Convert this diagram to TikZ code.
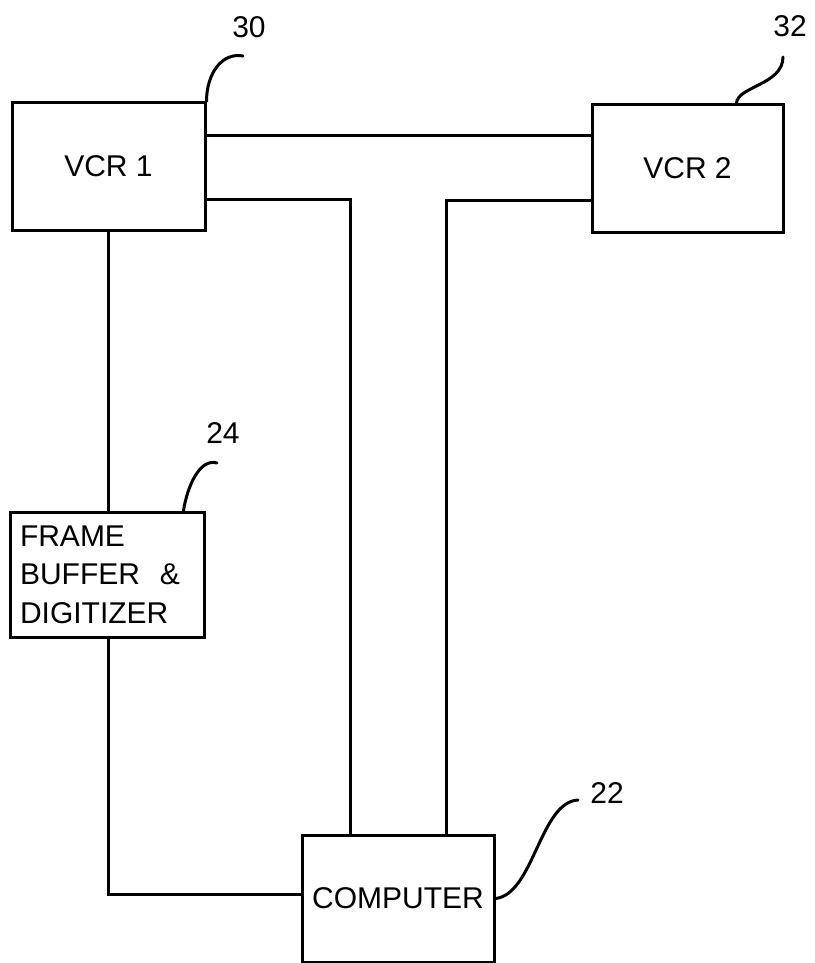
\documentclass[tikz,border=0pt]{standalone}
\usepackage{fontspec}
\setmainfont{Liberation Sans}
\usetikzlibrary{positioning,calc}

\begin{document}
\begin{tikzpicture}[
    x=1pt, y=-1pt,
    line width=3pt,
    block/.style={draw, rectangle, inner sep=0pt, font=\fontsize{30}{38.5}\selectfont},
    wire/.style={line cap=rect},
    ref/.style={font=\fontsize{30}{36}\selectfont},
    leader/.style={line cap=round}
]
\useasboundingbox (0,0) rectangle (814,963);

% Blocks
\node[block, minimum width=193pt, minimum height=127pt] (vcr1) at (108.5,166.5) {VCR 1};
\node[block, minimum width=191pt, minimum height=127pt] (vcr2) at (687.5,168.5) {VCR 2};
\node[block, minimum width=194pt, minimum height=125pt, align=left,
      text width=174pt] (frame) at (107,574.5) {FRAME\\BUFFER~~\&\\DIGITIZER};
\node[block, minimum width=192pt, minimum height=127pt] (computer) at (398,898.5) {COMPUTER};

% Wiring
\coordinate (tapA) at (0,135);
\draw[wire] (vcr1.east |- tapA) -- (vcr2.west |- tapA);
\coordinate (busL) at (350,199);
\draw[wire] (vcr1.east |- busL) -| (computer.north -| busL);
\coordinate (busR) at (446,200);
\draw[wire] (vcr2.west |- busR) -| (computer.north -| busR);
\draw[wire] (vcr1.south) -- (frame.north -| vcr1.south);
\coordinate (ret) at (108,894);
\draw[wire] (frame.south -| ret) |- (computer.west |- ret);

% Reference numerals
\node[ref] (n30) at (249,27) {30};
\coordinate (e30) at (243,56);
\draw[leader] (vcr1.north east) .. controls +(0,-28) and +(-21,-4) .. (e30);

\node[ref] (n32) at (790,26) {32};
\coordinate (e32) at (783,57);
\draw[leader] ($(vcr2.north east)+(-48,0)$) .. controls +(0,-17) and +(0,28) .. (e32);

\node[ref] (n24) at (223,433) {24};
\coordinate (e24) at (217,463);
\draw[leader] ($(frame.north east)+(-22,0)$) .. controls +(4,-25) and +(-17,-5) .. (e24);

\node[ref] (n22) at (607,793) {22};
\coordinate (e22) at (578,800);
\draw[leader] (computer.east) .. controls +(38,-4) and +(-38,2) .. (e22);
\end{tikzpicture}
\end{document}
